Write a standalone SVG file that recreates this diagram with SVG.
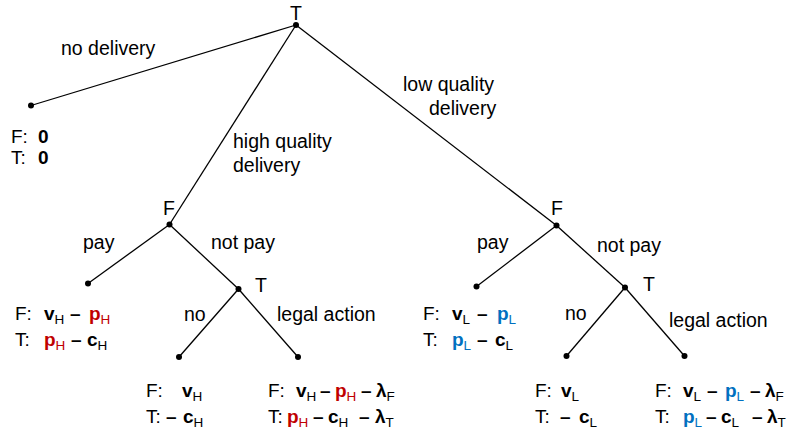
<svg xmlns="http://www.w3.org/2000/svg" width="800" height="442" viewBox="0 0 800 442">
<style>
text{font-family:"Liberation Sans",Arial,sans-serif;font-size:19.5px;fill:#000}
.p{font-size:19px}
.b{font-weight:bold}
.s{font-size:13.5px;font-weight:normal}
.r{fill:#C00000}
.u{fill:#0070C0}
line{stroke:#000;stroke-width:1.3}
circle{fill:#000}
</style>
<rect width="800" height="442" fill="#fff"/>
<g id="connectors">
<line x1="296" y1="25" x2="31" y2="105.5"/>
<line x1="296" y1="25" x2="169.5" y2="224.5"/>
<line x1="296" y1="25" x2="556.5" y2="225.5"/>
<line x1="169.5" y1="224.5" x2="88" y2="283.5"/>
<line x1="169.5" y1="224.5" x2="238.5" y2="289"/>
<line x1="238.5" y1="289" x2="179" y2="357"/>
<line x1="238.5" y1="289" x2="298" y2="357"/>
<line x1="556.5" y1="225.5" x2="476.5" y2="286.5"/>
<line x1="556.5" y1="225.5" x2="625" y2="287.5"/>
<line x1="625" y1="287.5" x2="566.5" y2="356"/>
<line x1="625" y1="287.5" x2="684.5" y2="356"/>
</g>
<g id="edge-labels">
<text x="61" y="55">no delivery</text>
<text x="233" y="148">high quality</text>
<text x="233" y="172">delivery</text>
<text x="403" y="91">low quality</text>
<text x="429" y="115">delivery</text>
<text x="83" y="249">pay</text>
<text x="211" y="249">not pay</text>
<text x="477" y="249">pay</text>
<text x="597" y="252">not pay</text>
<text x="184" y="321">no</text>
<text x="277" y="321">legal action</text>
<text x="565" y="320">no</text>
<text x="669" y="327">legal action</text>
</g>
<g id="node-root"><circle cx="296" cy="25" r="3"/><text x="296" y="20" text-anchor="middle">T</text></g>
<g id="node-F-high"><circle cx="169.5" cy="224.5" r="3"/><text x="163" y="215">F</text></g>
<g id="node-T-high"><circle cx="238.5" cy="289" r="3"/><text x="255" y="292">T</text></g>
<g id="node-F-low"><circle cx="556.5" cy="225.5" r="3"/><text x="551" y="215">F</text></g>
<g id="node-T-low"><circle cx="625" cy="287.5" r="3"/><text x="643" y="291">T</text></g>
<g id="leaf-nodelivery"><circle cx="31" cy="105.5" r="3"/>
<text class="p" x="11" y="142.5">F:<tspan x="38" class="b">0</tspan></text>
<text class="p" x="11" y="164">T:<tspan x="38" class="b">0</tspan></text>
</g>
<g id="leaf-high-pay"><circle cx="88" cy="283.5" r="3"/>
<text class="p" x="15" y="320">F:<tspan x="44" class="b">v</tspan><tspan class="s" dy="4">H</tspan><tspan x="70" dy="-4" class="b">–</tspan><tspan x="89" class="b r">p</tspan><tspan class="s r" dy="4">H</tspan></text>
<text class="p" x="15" y="346">T:<tspan x="44" class="b r">p</tspan><tspan class="s r" dy="4">H</tspan><tspan x="71" dy="-4" class="b">–</tspan><tspan x="87" class="b">c</tspan><tspan class="s" dy="4">H</tspan></text>
</g>
<g id="leaf-high-no"><circle cx="179" cy="357" r="3"/>
<text class="p" x="146" y="397">F:<tspan x="182" class="b">v</tspan><tspan class="s" dy="4">H</tspan></text>
<text class="p" x="146" y="423">T:<tspan x="166" class="b">–</tspan><tspan x="183" class="b">c</tspan><tspan class="s" dy="4">H</tspan></text>
</g>
<g id="leaf-high-legal"><circle cx="298" cy="357" r="3"/>
<text class="p" x="268" y="397">F:<tspan x="296" class="b">v</tspan><tspan class="s" dy="4">H</tspan><tspan x="320" dy="-4" class="b">–</tspan><tspan x="335" class="b r">p</tspan><tspan class="s r" dy="4">H</tspan><tspan x="361" dy="-4" class="b">–</tspan><tspan x="376" class="b">λ</tspan><tspan class="s" dy="4">F</tspan></text>
<text class="p" x="268" y="423">T:<tspan x="287" class="b r">p</tspan><tspan class="s r" dy="4">H</tspan><tspan x="313" dy="-4" class="b">–</tspan><tspan x="328" class="b">c</tspan><tspan class="s" dy="4">H</tspan><tspan x="359" dy="-4" class="b">–</tspan><tspan x="375" class="b">λ</tspan><tspan class="s" dy="4">T</tspan></text>
</g>
<g id="leaf-low-pay"><circle cx="476.5" cy="286.5" r="3"/>
<text class="p" x="423" y="320">F:<tspan x="452" class="b">v</tspan><tspan class="s" dy="4">L</tspan><tspan x="477" dy="-4" class="b">–</tspan><tspan x="497" class="b u">p</tspan><tspan class="s u" dy="4">L</tspan></text>
<text class="p" x="423" y="346">T:<tspan x="452" class="b u">p</tspan><tspan class="s u" dy="4">L</tspan><tspan x="477" dy="-4" class="b">–</tspan><tspan x="495" class="b">c</tspan><tspan class="s" dy="4">L</tspan></text>
</g>
<g id="leaf-low-no"><circle cx="566.5" cy="356" r="3"/>
<text class="p" x="535" y="397">F:<tspan x="561" class="b">v</tspan><tspan class="s" dy="4">L</tspan></text>
<text class="p" x="535" y="423">T:<tspan x="560" class="b">–</tspan><tspan x="579" class="b">c</tspan><tspan class="s" dy="4">L</tspan></text>
</g>
<g id="leaf-low-legal"><circle cx="684.5" cy="356" r="3"/>
<text class="p" x="655" y="397">F:<tspan x="683" class="b">v</tspan><tspan class="s" dy="4">L</tspan><tspan x="707" dy="-4" class="b">–</tspan><tspan x="725" class="b u">p</tspan><tspan class="s u" dy="4">L</tspan><tspan x="750" dy="-4" class="b">–</tspan><tspan x="765" class="b">λ</tspan><tspan class="s" dy="4">F</tspan></text>
<text class="p" x="655" y="423">T:<tspan x="683" class="b u">p</tspan><tspan class="s u" dy="4">L</tspan><tspan x="706" dy="-4" class="b">–</tspan><tspan x="721" class="b">c</tspan><tspan class="s" dy="4">L</tspan><tspan x="752" dy="-4" class="b">–</tspan><tspan x="767" class="b">λ</tspan><tspan class="s" dy="4">T</tspan></text>
</g>
</svg>
